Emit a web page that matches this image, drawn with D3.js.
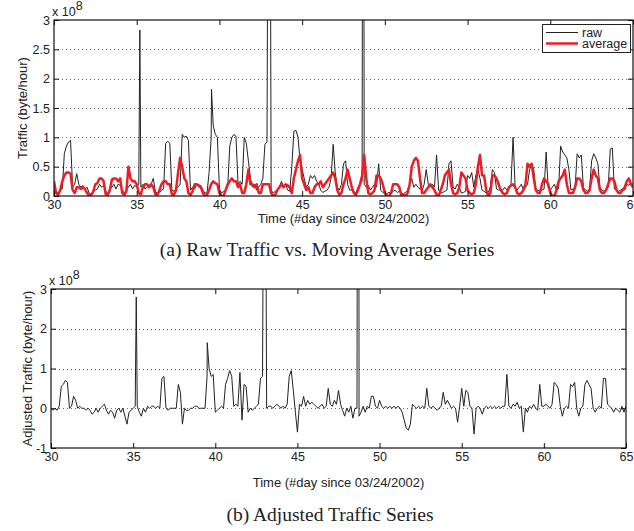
<!DOCTYPE html>
<html>
<head>
<meta charset="utf-8">
<script src="https://cdn.jsdelivr.net/npm/d3@7"></script>
<style>
body { margin: 0; background: #fff; }
text { font-family: "Liberation Sans", Arial, Helvetica, sans-serif; fill: #222; }
</style>
</head>
<body>
<svg id="chart" width="634" height="531"></svg>
<script>
// samples every 3 hours (8 per day), values in units of 1e8 byte/hour
const STEPS_PER_DAY = 8;
const dayStart = 30, dayEnd = 65;
const xTicks = [30, 35, 40, 45, 50, 55, 60, 65];
const topYTicks = [0, 0.5, 1, 1.5, 2, 2.5, 3];
const bottomYTicks = [-1, 0, 1, 2, 3];
const legendLabels = ["raw", "average"];

const rawTraffic = [
  0.10,0.08,0.05,0.10,0.12,0.72,0.85,0.92, // 30
  0.95,0.15,0.20,0.38,0.20,0.15,0.18,0.12, // 31
  0.15,0.05,0.03,0.08,0.10,0.12,0.20,0.15, // 32
  0.18,0.08,0.05,0.12,0.15,0.20,0.12,0.20, // 33
  0.18,0.10,0.05,0.10,0.15,0.20,0.12,0.18, // 34
  0.15,0.20,0.15,0.20,0.12,0.15,0.18,0.20, // 35
  0.30,0.08,0.04,0.06,0.10,0.12,0.90,0.93, // 36
  0.90,0.10,0.08,0.12,0.15,0.20,1.05,1.00, // 37
  1.02,0.95,0.10,0.15,0.12,0.20,0.15,0.18, // 38
  0.10,0.05,0.05,0.40,1.00,1.20,1.05,1.00, // 39
  0.12,0.05,0.08,0.10,0.15,0.85,1.00,1.05, // 40
  1.02,0.20,0.25,0.20,1.00,0.90,0.60,0.30, // 41
  0.15,0.20,0.10,0.15,0.20,0.30,0.88,0.92, // 42
  8.00,0.10,0.05,0.08,0.10,0.15,0.25,0.15, // 43
  0.20,0.10,0.08,0.50,1.10,1.12,1.00,0.60, // 44
  0.45,0.30,0.15,0.20,0.35,0.30,0.35,0.25, // 45
  0.20,0.10,0.06,0.08,0.10,0.15,0.30,0.88, // 46
  0.40,0.15,0.10,0.20,0.55,0.60,0.20,0.10, // 47
  0.10,0.08,0.05,0.15,0.20,0.25,0.20,0.15, // 48
  0.18,0.10,0.15,0.20,0.15,0.55,0.10,0.06, // 49
  0.05,0.04,0.06,0.05,0.08,0.10,0.06,0.08, // 50
  0.05,0.04,0.06,0.10,0.20,0.30,0.15,0.20, // 51
  0.15,0.12,0.10,0.20,0.45,0.20,0.15,0.20, // 52
  0.15,0.70,0.10,0.05,0.06,0.08,0.10,0.55, // 53
  0.60,0.15,0.12,0.20,0.15,0.05,0.06,0.08, // 54
  0.35,0.30,0.40,0.15,0.35,0.45,0.30,0.10, // 55
  0.08,0.05,0.06,0.15,0.45,0.40,0.12,0.10, // 56
  0.12,0.10,0.15,0.10,0.12,0.20,1.00,0.15, // 57
  0.10,0.15,0.20,0.10,0.15,0.20,0.45,0.55, // 58
  0.45,0.10,0.10,0.08,0.10,0.12,0.75,0.15, // 59
  0.10,0.15,0.20,0.10,0.12,0.85,0.75,0.70, // 60
  0.65,0.45,0.10,0.12,0.15,0.72,0.65,0.70, // 61
  0.15,0.10,0.08,0.12,0.60,0.72,0.65,0.55, // 62
  0.15,0.10,0.08,0.10,0.15,0.80,0.82,0.12, // 63
  0.10,0.08,0.10,0.12,0.10,0.20,0.18,0.22, // 64
  0.20
];
// narrow spikes between the 3-hour samples [day, value]
const rawSpikes = [[35.19, 2.83], [39.52, 1.82], [42.97, 8], [43.05, 8], [48.66, 8], [48.72, 8]];

const avgTraffic = [
  0.25,0.05,0.02,0.10,0.25,0.35,0.40,0.40, // 30
  0.38,0.10,0.05,0.15,0.15,0.12,0.15,0.12, // 31
  0.05,0.00,0.02,0.08,0.20,0.22,0.30,0.30, // 32
  0.25,0.03,0.02,0.10,0.28,0.30,0.30,0.25, // 33
  0.30,0.05,0.02,0.08,0.50,0.30,0.25,0.25, // 34
  0.20,0.05,0.03,0.15,0.20,0.20,0.15,0.20, // 35
  0.15,0.03,0.02,0.10,0.20,0.25,0.25,0.20, // 36
  0.20,0.03,0.02,0.10,0.40,0.65,0.50,0.30, // 37
  0.25,0.05,0.02,0.08,0.20,0.20,0.18,0.15, // 38
  0.05,0.00,0.02,0.10,0.20,0.25,0.22,0.20, // 39
  0.05,0.00,0.00,0.10,0.20,0.25,0.30,0.25, // 40
  0.25,0.15,0.20,0.05,0.05,0.20,0.45,0.20, // 41
  0.20,0.15,0.20,0.05,0.05,0.20,0.20,0.20, // 42
  0.20,0.05,0.00,0.02,0.10,0.15,0.20,0.15, // 43
  0.20,0.18,0.15,0.05,0.30,0.45,0.60,0.70, // 44
  0.30,0.20,0.10,0.15,0.05,0.05,0.15,0.20, // 45
  0.20,0.25,0.15,0.20,0.25,0.30,0.35,0.40, // 46
  0.30,0.10,0.02,0.05,0.20,0.30,0.45,0.30, // 47
  0.15,0.05,0.02,0.10,0.20,0.35,0.70,0.30, // 48
  0.05,0.03,0.05,0.10,0.35,0.35,0.30,0.20, // 49
  0.05,0.00,0.00,0.05,0.20,0.20,0.20,0.15, // 50
  0.00,0.02,0.00,0.05,0.20,0.50,0.60,0.65, // 51
  0.60,0.30,0.05,0.05,0.10,0.15,0.20,0.15, // 52
  0.10,0.02,0.00,0.10,0.20,0.35,0.40,0.45, // 53
  0.20,0.05,0.03,0.05,0.15,0.40,0.35,0.30, // 54
  0.10,0.05,0.03,0.05,0.20,0.50,0.70,0.35, // 55
  0.35,0.10,0.00,0.05,0.35,0.35,0.30,0.20, // 56
  0.10,0.05,0.03,0.05,0.15,0.18,0.20,0.15, // 57
  0.05,0.03,0.05,0.10,0.20,0.55,0.50,0.55, // 58
  0.30,0.10,0.05,0.05,0.20,0.30,0.25,0.20, // 59
  0.05,0.00,0.00,0.10,0.25,0.30,0.35,0.45, // 60
  0.20,0.05,0.05,0.05,0.15,0.30,0.30,0.25, // 61
  0.10,0.05,0.05,0.10,0.30,0.45,0.35,0.30, // 62
  0.10,0.05,0.05,0.10,0.20,0.30,0.30,0.25, // 63
  0.10,0.05,0.05,0.10,0.15,0.25,0.30,0.20, // 64
  0.15
];

const adjTraffic = [
  0.00,-0.05,0.00,-0.05,0.05,0.55,0.60,0.70, // 30
  0.65,0.00,0.05,0.30,0.20,0.00,0.05,0.00, // 31
  0.00,-0.05,0.00,-0.05,-0.15,-0.10,0.00,-0.10, // 32
  0.00,0.05,0.10,-0.05,-0.15,-0.05,-0.10,-0.25, // 33
  -0.05,0.00,-0.10,0.00,-0.20,-0.40,-0.10,-0.05, // 34
  0.00,0.05,0.05,-0.10,-0.20,0.00,-0.10,0.05, // 35
  0.00,0.05,0.05,0.00,0.05,0.00,0.75,0.80, // 36
  0.00,-0.05,0.00,0.00,0.00,0.00,0.60,0.40, // 37
  -0.40,0.00,-0.05,-0.05,0.00,0.00,0.05,0.05, // 38
  0.00,0.00,0.00,0.00,0.80,1.00,0.80,0.85, // 39
  -0.10,-0.05,0.00,0.05,0.00,0.60,0.75,0.95, // 40
  0.80,0.05,0.10,0.05,0.90,-0.30,0.60,0.55, // 41
  -0.10,0.00,-0.05,0.00,0.05,0.10,0.75,0.80, // 42
  8.00,0.00,0.05,0.05,0.00,0.05,0.10,0.05, // 43
  0.00,0.05,0.00,0.10,0.80,0.95,0.45,-0.10, // 44
  -0.60,0.10,0.05,0.30,0.05,0.20,0.10,0.15, // 45
  0.10,0.05,0.00,0.05,0.10,0.00,0.05,0.50, // 46
  0.10,0.05,0.20,0.10,0.45,0.10,-0.05,-0.20, // 47
  0.00,-0.10,0.05,-0.25,0.00,0.00,-0.20,-0.10, // 48
  0.05,-0.10,0.05,0.00,0.30,0.30,0.05,0.00, // 49
  0.20,0.05,0.00,0.05,0.00,0.05,0.00,0.05, // 50
  0.00,0.05,0.00,-0.10,-0.30,-0.50,-0.55,-0.40, // 51
  0.10,0.05,0.00,0.05,0.00,0.05,0.00,0.50, // 52
  0.05,0.00,0.05,0.00,-0.05,0.00,0.05,0.40, // 53
  0.10,0.20,0.10,0.00,0.05,0.00,-0.35,0.05, // 54
  0.50,0.05,0.45,0.40,0.05,0.00,-0.65,0.00, // 55
  0.05,0.00,-0.15,0.00,0.05,0.00,0.05,0.00, // 56
  0.05,0.00,0.05,0.00,0.05,0.05,0.85,0.05, // 57
  0.00,0.10,0.05,0.15,0.00,0.05,-0.60,0.00, // 58
  -0.10,0.05,0.00,0.10,0.00,-0.05,0.60,0.05, // 59
  0.05,0.10,0.05,0.00,0.10,0.65,0.60,0.50, // 60
  0.05,-0.20,0.00,0.05,0.00,0.60,0.55,0.65, // 61
  0.00,-0.20,0.00,0.05,0.60,0.70,0.60,0.50, // 62
  0.00,-0.10,0.00,0.05,0.00,0.75,0.75,0.10, // 63
  0.05,0.00,-0.10,0.00,-0.05,-0.10,0.05,-0.10, // 64
  0.05
];
const adjSpikes = [[35.19, 2.8], [39.51, 1.65], [42.96, 8], [43.05, 8], [48.66, 8], [48.74, 8]];

const svg = d3.select("#chart");

// turn the 3-hour samples into [day, value] points and slot the spikes in
function toPoints(values, extras) {
  const pts = values.map((v, i) => [dayStart + i / STEPS_PER_DAY, v]);
  return pts.concat(extras || []).sort((a, b) => a[0] - b[0]);
}

function drawPanel(p) {
  const x = d3.scaleLinear().domain([dayStart, dayEnd]).range([p.left, p.right]);
  const y = d3.scaleLinear().domain(p.yDomain).range([p.bottom, p.top]);
  const g = svg.append("g");

  // dotted horizontal grid
  g.selectAll(".grid")
    .data(p.yTicks.filter(t => t > p.yDomain[0] && t < p.yDomain[1]))
    .join("line")
    .attr("x1", p.left).attr("x2", p.right)
    .attr("y1", d => Math.round(y(d)) + 0.5).attr("y2", d => Math.round(y(d)) + 0.5)
    .attr("stroke", "#666").attr("stroke-width", 1)
    .attr("stroke-dasharray", "1,3");

  g.append("clipPath").attr("id", p.id + "-clip")
    .append("rect")
    .attr("x", p.left).attr("y", p.top)
    .attr("width", p.right - p.left).attr("height", p.bottom - p.top);

  const line = d3.line().x(d => x(d[0])).y(d => y(d[1]));
  p.series.forEach(s => {
    g.append("path")
      .datum(s.points)
      .attr("clip-path", "url(#" + p.id + "-clip)")
      .attr("fill", "none")
      .attr("stroke", s.color)
      .attr("stroke-width", s.width)
      .attr("stroke-linejoin", "round")
      .attr("d", line);
  });

  // axes, MATLAB style ticks pointing inward on all four sides
  const fmt = d => String(d);
  g.append("g").attr("transform", `translate(0,${p.bottom})`)
    .call(d3.axisBottom(x).tickValues(xTicks).tickSize(-5).tickSizeOuter(0).tickPadding(4).tickFormat(fmt));
  g.append("g").attr("transform", `translate(0,${p.top})`)
    .call(d3.axisTop(x).tickValues(xTicks).tickSize(-5).tickSizeOuter(0).tickFormat(""));
  g.append("g").attr("transform", `translate(${p.left},0)`)
    .call(d3.axisLeft(y).tickValues(p.yTicks).tickSize(-5).tickSizeOuter(0).tickPadding(4).tickFormat(fmt));
  g.append("g").attr("transform", `translate(${p.right},0)`)
    .call(d3.axisRight(y).tickValues(p.yTicks).tickSize(-5).tickSizeOuter(0).tickFormat(""));
  g.selectAll(".domain").remove();
  g.selectAll(".tick line").attr("stroke", "#111");
  g.selectAll(".tick text").attr("font-size", 12.5).attr("fill", "#222");

  // frame
  g.append("rect")
    .attr("x", p.left).attr("y", p.top)
    .attr("width", p.right - p.left).attr("height", p.bottom - p.top)
    .attr("fill", "none").attr("stroke", "#111").attr("stroke-width", 1.2);

  // exponent label
  const ex = g.append("text").attr("x", p.left - 2).attr("y", p.top - 4).attr("font-size", 12.5);
  ex.append("tspan").text("x 10");
  ex.append("tspan").attr("dy", -6).text("8");

  g.append("text")
    .attr("transform", `translate(${p.yLabelX},${(p.top + p.bottom) / 2}) rotate(-90)`)
    .attr("text-anchor", "middle").attr("font-size", 13)
    .text(p.yLabel);
  g.append("text")
    .attr("x", (p.left + p.right) / 2).attr("y", p.xLabelY)
    .attr("text-anchor", "middle").attr("font-size", 13)
    .text("Time (#day since 03/24/2002)");
  svg.append("text")
    .attr("x", p.captionX).attr("y", p.captionY)
    .attr("text-anchor", "middle")
    .attr("font-size", 19.5)
    .style("font-family", "'Liberation Serif', 'Times New Roman', serif")
    .attr("fill", "#111")
    .text(p.caption);
  return { g, x, y };
}

const topPanel = drawPanel({
  id: "top", left: 54, right: 633, top: 20, bottom: 196,
  yDomain: [0, 3], yTicks: topYTicks,
  yLabel: "Traffic (byte/hour)", yLabelX: 27, xLabelY: 223,
  caption: "(a) Raw Traffic vs. Moving Average Series", captionX: 327, captionY: 256,
  series: [
    { points: toPoints(rawTraffic, rawSpikes), color: "#222", width: 1 },
    { points: toPoints(avgTraffic), color: "#ee1c24", width: 2.5 }
  ]
});

// legend
const lg = topPanel.g.append("g");
lg.append("rect").attr("x", 542.5).attr("y", 24.5).attr("width", 88).attr("height", 28)
  .attr("fill", "#fff").attr("stroke", "#222").attr("stroke-width", 1);
const legendStyles = [{ color: "#222", width: 1 }, { color: "#ee1c24", width: 2.5 }];
legendLabels.forEach((name, i) => {
  const ly = 32.5 + i * 11;
  lg.append("line").attr("x1", 546).attr("x2", 578).attr("y1", ly).attr("y2", ly)
    .attr("stroke", legendStyles[i].color).attr("stroke-width", legendStyles[i].width);
  lg.append("text").attr("x", 582).attr("y", ly + 4.5).attr("font-size", 12.5).text(name);
});

drawPanel({
  id: "bottom", left: 51, right: 626, top: 289, bottom: 448,
  yDomain: [-1, 3], yTicks: bottomYTicks,
  yLabel: "Adjusted Traffic (byte/hour)", yLabelX: 32, xLabelY: 487,
  caption: "(b) Adjusted Traffic Series", captionX: 330, captionY: 521,
  series: [
    { points: toPoints(adjTraffic, adjSpikes), color: "#222", width: 1 }
  ]
});
</script>
</body>
</html>
